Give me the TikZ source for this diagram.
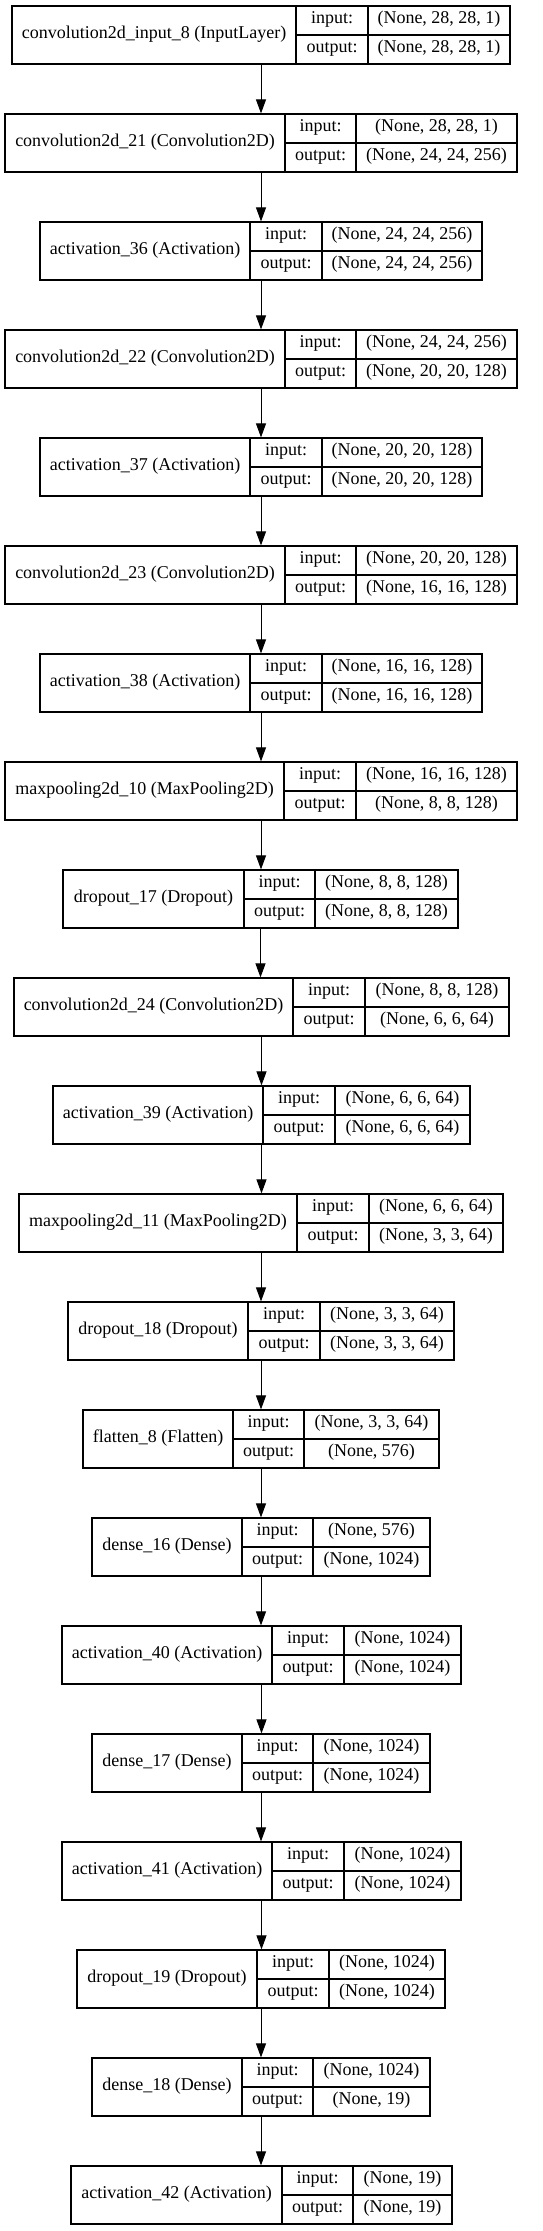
\documentclass[tikz,border=0pt]{standalone}
\usepackage{fontspec}
\setmainfont{Liberation Serif}
\usetikzlibrary{arrows.meta}
\tikzset{
  layerbox/.style={draw, line width=1.2pt, inner sep=0pt, minimum height=58pt},
  cellline/.style={line width=1.2pt},
  cell/.style={inner sep=0pt, text height=0.7em, text depth=0.1em, font=\fontsize{18}{21}\selectfont},
  flow/.style={-{Triangle[length=14pt,width=10pt]}, line width=1pt},
}
\begin{document}
\begin{tikzpicture}[x=1pt,y=-1pt]
 \fill[white] (0,0) rectangle (543,2231);
 % layers: left / name|input / input|shape / right / name / input shape / output shape
 \foreach \xl/\xa/\xb/\xr/\lname/\ishape/\oshape [count=\n from 0] in {
   12/296/368/510/{convolution2d\_input\_8 (InputLayer)}/{(None, 28, 28, 1)}/{(None, 28, 28, 1)},
   5/285/356/517/{convolution2d\_21 (Convolution2D)}/{(None, 28, 28, 1)}/{(None, 24, 24, 256)},
   40/250/322/482/{activation\_36 (Activation)}/{(None, 24, 24, 256)}/{(None, 24, 24, 256)},
   5/285/356/517/{convolution2d\_22 (Convolution2D)}/{(None, 24, 24, 256)}/{(None, 20, 20, 128)},
   40/250/322/482/{activation\_37 (Activation)}/{(None, 20, 20, 128)}/{(None, 20, 20, 128)},
   5/285/356/517/{convolution2d\_23 (Convolution2D)}/{(None, 20, 20, 128)}/{(None, 16, 16, 128)},
   40/250/322/482/{activation\_38 (Activation)}/{(None, 16, 16, 128)}/{(None, 16, 16, 128)},
   5/284/356/517/{maxpooling2d\_10 (MaxPooling2D)}/{(None, 16, 16, 128)}/{(None, 8, 8, 128)},
   63/244/315/458/{dropout\_17 (Dropout)}/{(None, 8, 8, 128)}/{(None, 8, 8, 128)},
   14/293/365/509/{convolution2d\_24 (Convolution2D)}/{(None, 8, 8, 128)}/{(None, 6, 6, 64)},
   53/263/335/470/{activation\_39 (Activation)}/{(None, 6, 6, 64)}/{(None, 6, 6, 64)},
   19/297/369/503/{maxpooling2d\_11 (MaxPooling2D)}/{(None, 6, 6, 64)}/{(None, 3, 3, 64)},
   68/248/320/454/{dropout\_18 (Dropout)}/{(None, 3, 3, 64)}/{(None, 3, 3, 64)},
   83/233/304/439/{flatten\_8 (Flatten)}/{(None, 3, 3, 64)}/{(None, 576)},
   92/242/313/430/{dense\_16 (Dense)}/{(None, 576)}/{(None, 1024)},
   62/272/344/461/{activation\_40 (Activation)}/{(None, 1024)}/{(None, 1024)},
   92/242/313/430/{dense\_17 (Dense)}/{(None, 1024)}/{(None, 1024)},
   62/272/344/461/{activation\_41 (Activation)}/{(None, 1024)}/{(None, 1024)},
   77/257/329/445/{dropout\_19 (Dropout)}/{(None, 1024)}/{(None, 1024)},
   92/242/313/430/{dense\_18 (Dense)}/{(None, 1024)}/{(None, 19)},
   71/282/353/452/{activation\_42 (Activation)}/{(None, 19)}/{(None, 19)}} {
   \pgfmathtruncatemacro\ty{6+108*\n}
   \node[layerbox, minimum width={(\xr-\xl)*1pt}] (l\n) at ({(\xl+\xr)/2},{\ty+29}) {};
   \draw[cellline] (\xa,\ty) -- (\xa,{\ty+58});
   \draw[cellline] (\xb,\ty) -- (\xb,{\ty+58});
   \draw[cellline] (\xa,{\ty+29}) -- (\xr,{\ty+29});
   \node[cell] (l\n-name) at ({(\xl+\xa)/2},{\ty+29}) {\lname};
   \node[cell] (l\n-inl) at ({(\xa+\xb)/2},{\ty+14.5}) {input:};
   \node[cell] (l\n-inv) at ({(\xb+\xr)/2},{\ty+14.5}) {\ishape};
   \node[cell] (l\n-outl) at ({(\xa+\xb)/2},{\ty+43.5}) {output:};
   \node[cell] (l\n-outv) at ({(\xb+\xr)/2},{\ty+43.5}) {\oshape};
 }
 %
 \foreach \i in {0,...,19} {
   \pgfmathtruncatemacro\j{\i+1}
   \draw[flow] (l\i.south) -- (l\i.south |- l\j.north);
 }
\end{tikzpicture}
\end{document}
